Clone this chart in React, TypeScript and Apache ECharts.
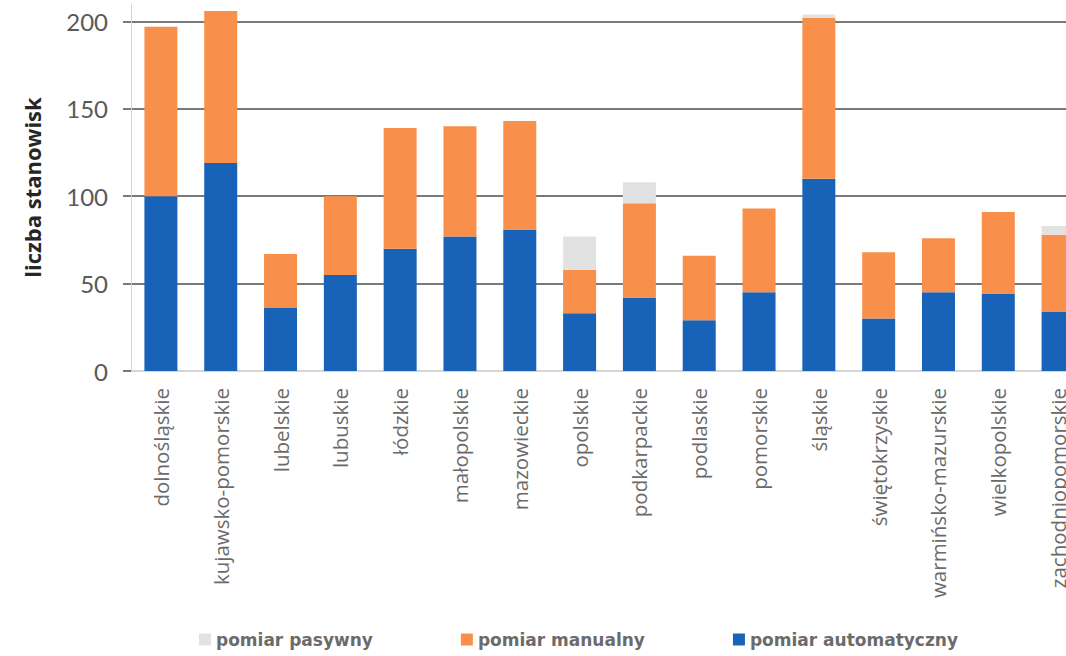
import React, { useEffect, useRef } from "react";
import * as echarts from "echarts";

const categories = [
  "dolnośląskie",
  "kujawsko-pomorskie",
  "lubelskie",
  "lubuskie",
  "łódzkie",
  "małopolskie",
  "mazowieckie",
  "opolskie",
  "podkarpackie",
  "podlaskie",
  "pomorskie",
  "śląskie",
  "świętokrzyskie",
  "warmińsko-mazurskie",
  "wielkopolskie",
  "zachodniopomorskie",
];

const automatyczny = [100, 119, 36, 55, 70, 77, 81, 33, 42, 29, 45, 110, 30, 45, 44, 34];
const manualny = [97, 87, 31, 45, 69, 63, 62, 25, 54, 37, 48, 92, 38, 31, 47, 44];
const pasywny = [0, 0, 0, 0, 0, 0, 0, 19, 12, 0, 0, 2, 0, 0, 0, 5];

const seriesNames = ["pomiar pasywny", "pomiar manualny", "pomiar automatyczny"];
const yTicks = [0, 50, 100, 150, 200];
const yAxisName = "liczba stanowisk";

export default function App() {
  const ref = useRef<HTMLDivElement>(null);

  useEffect(() => {
    if (!ref.current) return;
    const chart = echarts.init(ref.current, null, { renderer: "svg" });
    const option: any = {
      animation: false,
      backgroundColor: "#ffffff",
      grid: { left: 131, top: 4, width: 957, height: 367, containLabel: false },
      legend: {
        data: seriesNames,
        left: 199,
        top: 631,
        padding: 0,
        itemWidth: 12,
        itemHeight: 12,
        itemGap: 88,
        icon: "rect",
        textStyle: {
          fontFamily: "DejaVu Sans",
          fontWeight: "bold",
          fontSize: 17,
          color: "#6b6b6b",
        },
      },
      xAxis: {
        type: "category",
        data: categories,
        axisLine: { show: true, lineStyle: { color: "#c8c8c8", width: 1.5 } },
        axisTick: { show: false },
        axisLabel: {
          rotate: 90,
          interval: 0,
          margin: 17,
          fontFamily: "Open Sans",
          fontSize: 20.5,
          color: "#6a6a6a",
        },
      },
      yAxis: {
        type: "value",
        min: 0,
        max: 210,
        interval: 50,
        name: yAxisName,
        nameLocation: "middle",
        nameGap: 88,
        nameTextStyle: {
          fontFamily: "Open Sans",
          fontWeight: "bold",
          fontSize: 22,
          color: "#262626",
        },
        axisLine: { show: true, lineStyle: { color: "#d4d4d4", width: 1 } },
        axisTick: { show: true, length: 8, lineStyle: { color: "#4d4d4d", width: 1.5 } },
        axisLabel: {
          margin: 23,
          fontFamily: "Lato",
          fontSize: 24,
          color: "#595959",
          showMaxLabel: false,
          formatter: (v: number) => (yTicks.includes(v) ? String(v) : ""),
        },
        splitLine: {
          show: true,
          showMinLine: false,
          showMaxLine: false,
          lineStyle: { color: "#4d4d4d", width: 1.5 },
        },
      },
      series: [
        {
          name: seriesNames[2],
          type: "bar",
          stack: "total",
          data: automatyczny,
          barWidth: 33,
          itemStyle: { color: "#1862b8" },
        },
        {
          name: seriesNames[1],
          type: "bar",
          stack: "total",
          data: manualny,
          barWidth: 33,
          itemStyle: { color: "#f8904c" },
        },
        {
          name: seriesNames[0],
          type: "bar",
          stack: "total",
          data: pasywny,
          barWidth: 33,
          itemStyle: { color: "#e2e2e2" },
        },
      ],
    };
    chart.setOption(option);
    return () => chart.dispose();
  }, []);

  return (
    <div
      style={{
        position: "absolute",
        left: 0,
        top: 0,
        width: 1066,
        height: 656,
        overflow: "hidden",
        background: "#ffffff",
      }}
    >
      <div ref={ref} style={{ width: 1092, height: 656 }} />
    </div>
  );
}
